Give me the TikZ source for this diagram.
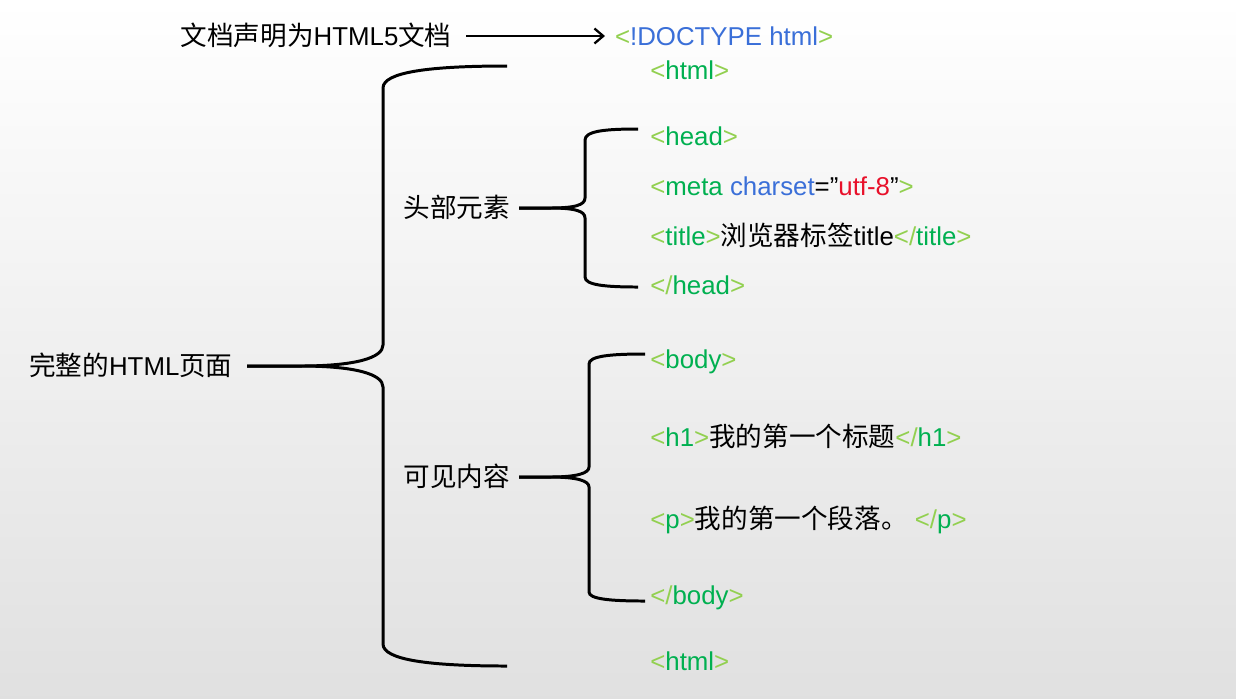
\documentclass[tikz,border=0pt]{standalone}
\usepackage{fontspec}
\setmainfont{Liberation Sans}
\newfontfamily\cjk{Noto Sans CJK SC}[Scale=1.03]
\usepackage{xcolor}
\usepackage{tikz}
\usetikzlibrary{arrows.meta}
\definecolor{brk}{HTML}{92D050}
\definecolor{tagname}{HTML}{00B050}
\definecolor{attr}{HTML}{3A6FD8}
\definecolor{val}{HTML}{E8102A}
\newcommand{\tg}[1]{\textcolor{brk}{<}\textcolor{tagname}{#1}\textcolor{brk}{>}}
\newcommand{\tgc}[1]{\textcolor{brk}{</}\textcolor{tagname}{#1}\textcolor{brk}{>}}
\tikzstyle{tag} = [anchor=west, inner xsep=0pt, inner ysep=0pt, text height=10.6pt, text depth=0pt, font=\fontsize{14.7}{18}\selectfont]
\tikzstyle{lbl} = [inner xsep=5pt, inner ysep=0pt, text height=10.6pt, text depth=0pt, font=\fontsize{14.7}{18}\selectfont]
\tikzstyle{brace} = [line width=1.7pt]
\tikzstyle{arrow} = [line width=1.3pt, -{Straight Barb[length=5pt,width=8.5pt]}]

\begin{document}
\begin{tikzpicture}[x=0.02cm, y=-0.02cm]
    \shade [top color=white, middle color=black!4, bottom color=black!12] (0,0) rectangle (1236,698);
    \useasboundingbox (0,0) rectangle (1236,698);

    \node (decl) [lbl, anchor=east, inner xsep=8pt] at (466,36) {{\cjk 文档声明为}HTML5{\cjk 文档}};
    \node (doctype) [tag, inner xsep=5.5pt] at (605,36) {\textcolor{brk}{<}\textcolor{attr}{!DOCTYPE html}\textcolor{brk}{>}};

    \node (htmlOpen) [tag] at (650,70) {\tg{html}};
    \node (headOpen) [tag] at (650,136) {\tg{head}};
    \node (meta) [tag] at (650,186) {\textcolor{brk}{<}\textcolor{tagname}{meta} \textcolor{attr}{charset}=”\textcolor{val}{utf-8}”\textcolor{brk}{>}};
    \node (title) [tag] at (650,236) {\tg{title}{\cjk 浏览器标签}title\tgc{title}};
    \node (headClose) [tag] at (650,285) {\tgc{head}};
    \node (bodyOpen) [tag] at (650,359) {\tg{body}};
    \node (h1) [tag] at (650,437) {\tg{h1}{\cjk 我的第一个标题}\tgc{h1}};
    \node (para) [tag] at (650,519) {\tg{p}{\cjk 我的第一个段落。} \tgc{p}};
    \node (bodyClose) [tag] at (650,595) {\tgc{body}};
    \node (htmlClose) [tag] at (650,661) {\tg{html}};

    \node (page) [lbl, anchor=east, inner xsep=8pt] at (247,366) {{\cjk 完整的}HTML{\cjk 页面}};
    \node (head) [lbl, anchor=east] at (519,208) {\cjk 头部元素};
    \node (body) [lbl, anchor=east] at (519,477) {\cjk 可见内容};

    \coordinate (pageTop) at (507,66);
    \coordinate (pageBot) at (507,666);
    \coordinate (headTop) at (638,129);
    \coordinate (headBot) at (638,287);
    \coordinate (bodyTop) at (645,354);
    \coordinate (bodyBot) at (645,601);

    \draw [arrow] (decl) -- (doctype);
    \draw [brace] (page.east) -- (300,366) .. controls (355,366) and (383,358) .. (383,345) -- (383,88) .. controls (383,72) and (430,66) .. (pageTop);
    \draw [brace] (page.east) -- (300,366) .. controls (355,366) and (383,374) .. (383,387) -- (383,644) .. controls (383,660) and (430,666) .. (pageBot);
    \draw [brace] (head.east) -- (550,208) .. controls (575,208) and (585,205) .. (585,198) -- (585,140) .. controls (585,131) and (605,129) .. (headTop);
    \draw [brace] (head.east) -- (550,208) .. controls (575,208) and (585,211) .. (585,218) -- (585,277) .. controls (585,285) and (605,287) .. (headBot);
    \draw [brace] (body.east) -- (550,477) .. controls (578,477) and (589,473) .. (589,467) -- (589,364) .. controls (589,356) and (610,354) .. (bodyTop);
    \draw [brace] (body.east) -- (550,477) .. controls (578,477) and (589,481) .. (589,487) -- (589,592) .. controls (589,599) and (610,601) .. (bodyBot);
\end{tikzpicture}
\end{document}
